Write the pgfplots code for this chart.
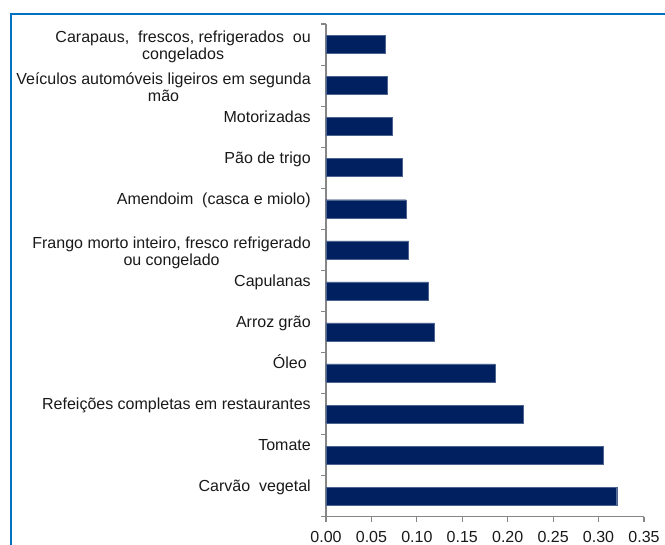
\documentclass[border=0pt]{standalone}
\usepackage{pgfplots}
\pgfplotsset{compat=1.18}
\usepackage{fontspec}
\setmainfont{Liberation Sans}
\definecolor{barblue}{RGB}{0,32,96}
\definecolor{framecol}{RGB}{0,112,192}
\definecolor{axgray}{RGB}{134,134,134}
\newcommand{\two}[2]{\raisebox{-2.25pt}{\begin{tabular}[t]{@{}c@{}}#1\\#2\end{tabular}}}
\newcommand{\lblfont}{\fontsize{12pt}{12.75pt}\selectfont}
\begin{document}
\begin{tikzpicture}
\useasboundingbox (0,0) rectangle (498.75pt,408pt);
\draw[framecol, line width=0.9pt] (8.25pt,-5pt) -- (8.25pt,397.5pt) -- (505pt,397.5pt);
\begin{axis}[
  at={(244.5pt,20.5pt)}, anchor=south west,
  scale only axis, width=238.5pt, height=369.5pt,
  xbar, bar width=13.5pt,
  xmin=0, xmax=0.35, ymin=0.5, ymax=12.5,
  axis x line*=bottom, axis y line*=left,
  axis line style={axgray, line width=0.8pt, -},
  tick align=outside,
  major tick length=3.75pt,
  tick style={axgray, line width=0.8pt},
  xtick={0,0.05,...,0.35},
  xticklabel style={/pgf/number format/fixed, /pgf/number format/zerofill, /pgf/number format/precision=2, /pgf/number format/assume math mode=true, font=\lblfont, text=black!90, inner sep=0pt, anchor=north, yshift=-7pt},
  ytick={0.5,1.5,...,12.5}, yticklabels={},
  extra y ticks={1,2,3,4,5,6,7,8,9,10,11,12},
  extra y tick labels={
    Carvão\ \ vegetal,
    Tomate,
    Refeições completas em restaurantes,
    Óleo\hspace*{3pt},
    Arroz grão,
    Capulanas,
    \two{Frango morto inteiro, fresco refrigerado}{ou congelado},
    Amendoim\ \ (casca e miolo),
    Pão de trigo,
    Motorizadas,
    \two{Veículos automóveis ligeiros em segunda}{mão},
    \two{Carapaus,\ \ frescos, refrigerados\ \ ou}{congelados}
  },
  extra y tick style={major tick length=0pt, yticklabel style={font=\lblfont, text=black!90, inner sep=0pt, anchor=base east, xshift=-11.25pt, yshift=3.4pt}},
  clip=false,
]
\addplot[fill=barblue, draw=barblue!70!white, line width=0.3pt] coordinates {
(0.320,1) (0.305,2) (0.217,3) (0.186,4) (0.119,5) (0.113,6)
(0.091,7) (0.088,8) (0.084,9) (0.073,10) (0.067,11) (0.065,12)};
\end{axis}
\end{tikzpicture}
\end{document}
